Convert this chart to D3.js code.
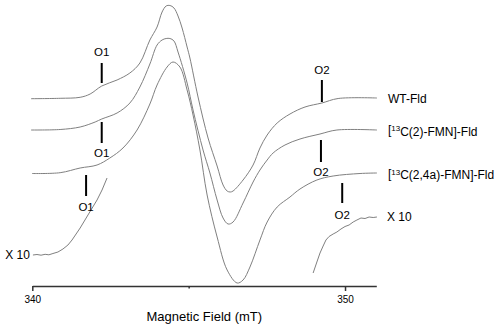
<!DOCTYPE html>
<html>
<head>
<meta charset="utf-8">
<script src="https://cdn.jsdelivr.net/npm/d3@7"></script>
<style>
  body { margin: 0; background: #fff; }
  text { font-family: "Liberation Sans", Arial, sans-serif; fill: #000; }
  .trace { fill: none; stroke: #808080; stroke-width: 1; }
  .marker { stroke: #000; stroke-width: 2; }
  .axis path, .axis line { stroke: #333; stroke-width: 1.5; }
</style>
</head>
<body>
<div id="chart"></div>
<script>
// field values (mT) and signal (a.u., relative to each trace's baseline)
var wtField = [339.96, 340.89, 341.53, 341.85, 342.22, 342.71, 343.12, 343.44, 343.76, 343.99, 344.15, 344.28, 344.40, 344.53, 344.66, 344.79, 344.95, 345.04, 345.30, 345.62, 345.91, 346.10, 346.23, 346.33, 346.42, 346.74, 347.06, 347.28, 347.51, 347.83, 348.24, 348.72, 349.26, 349.78, 351.02];
var wtSignal = [-0.2, 0.2, 1.2, 4.5, 12.5, 18.5, 25.5, 35.5, 58.5, 71.5, 86.5, 92.5, 93, 90.5, 82.5, 70.5, 51.5, 40.5, 1.5, -39.5, -67.5, -86.5, -92.5, -93.5, -92.5, -81.5, -66.5, -49.5, -36.5, -24.5, -15.5, -8.5, -4.5, 0, 0.5];

var c2Field = [339.96, 340.89, 341.53, 342.01, 342.22, 342.71, 343.12, 343.44, 343.76, 343.99, 344.15, 344.28, 344.40, 344.53, 344.66, 344.95, 345.14, 345.46, 345.68, 345.91, 346.10, 346.26, 346.42, 346.74, 347.06, 347.28, 347.51, 347.70, 348.08, 348.56, 349.20, 349.74, 351.02];
var c2Signal = [0, 0.5, 3, 8, 11, 17, 27, 43, 66, 85, 90, 91.5, 91.5, 89, 78, 47, 20, -20, -43, -70, -88, -94, -92, -73, -52, -40, -30, -23, -15, -9, -4, 0, 0];

var c24aField = [339.99, 340.89, 341.53, 342.07, 342.48, 342.90, 343.35, 343.76, 343.99, 344.31, 344.50, 344.72, 344.95, 345.14, 345.36, 345.59, 345.91, 346.23, 346.55, 346.74, 346.96, 347.28, 347.51, 347.83, 348.24, 348.56, 349.10, 349.62, 350.48, 351.02];
var c24aSignal = [0, 0.8, 5.5, 8.5, 15.5, 25.5, 43.5, 69.5, 88.5, 106.5, 111.5, 106.5, 83.5, 58.5, 23.5, -21.5, -63.5, -96.5, -109.5, -106.5, -93.5, -66.5, -48.5, -33.5, -23.5, -15.5, -6.5, -2.5, 0, 0.5];

// baseline offsets (a.u.)
var traceNames = ["WT-Fld", "[13C(2)-FMN]-Fld", "[13C(2,4a)-FMN]-Fld"];
var traceOffsets = [187.5, 156, 112.5];

// x10 expansions of the wings (absolute a.u.)
var lowX10Field = [340.02, 340.15, 340.28, 340.41, 340.53, 340.66, 340.82, 340.98, 341.14, 341.27, 341.53, 341.78, 342.07, 342.23, 342.39];
var lowX10Signal = [31, 31.5, 30.8, 31.7, 31.2, 32.5, 34, 37, 41, 46, 58, 71, 86, 96, 108];
var highX10Field = [348.98, 349.10, 349.20, 349.30, 349.39, 349.49, 349.62, 349.74, 349.87, 350.00, 350.13, 350.26, 350.38, 350.51, 350.64, 350.77, 350.90, 351.02];
var highX10Signal = [13, 24, 33, 40, 46, 49.5, 52, 54, 57, 59.5, 61, 64, 66, 68, 67.5, 69, 68.5, 69];

// hyperfine markers: field, line ends and label height (a.u.)
var markerLabels = ["O1", "O2", "O1", "O2", "O1", "O2"];
var markerField = [342.22, 349.26, 342.22, 349.23, 341.72, 349.91];
var markerTop = [223, 206, 164, 146, 111, 103];
var markerBottom = [203, 184, 143, 124, 90, 83];
var markerLabelY = [234, 216, 133, 114, 79, 71];

var tickValues = [340, 345, 350];

var width = 500, height = 330;

var svg = d3.select("#chart")
  .append("svg")
    .attr("width", width)
    .attr("height", height);

var x = d3.scaleLinear()
    .domain([340, 351])
    .range([32.3, 376.3]);

var y = d3.scaleLinear()
    .domain([0, 290])
    .range([286, -4]);

var line = d3.line()
    .x(function(d) { return x(d[0]); })
    .y(function(d) { return y(d[1]); })
    .curve(d3.curveCatmullRom);

var rough = d3.line()
    .x(function(d) { return x(d[0]); })
    .y(function(d) { return y(d[1]); });

var traces = [
  [wtField, wtSignal],
  [c2Field, c2Signal],
  [c24aField, c24aSignal]
];

traces.forEach(function(t, i) {
  var pts = t[0].map(function(f, j) { return [f, t[1][j] + traceOffsets[i]]; });
  svg.append("path")
    .attr("class", "trace")
    .attr("d", line(pts));
});

var lowPts = lowX10Field.map(function(f, j) { return [f, lowX10Signal[j]]; });
var highPts = highX10Field.map(function(f, j) { return [f, highX10Signal[j]]; });
svg.append("path").attr("class", "trace").attr("d", rough(lowPts));
svg.append("path").attr("class", "trace").attr("d", rough(highPts));

// markers
markerField.forEach(function(f, i) {
  svg.append("line")
    .attr("class", "marker")
    .attr("x1", x(f)).attr("x2", x(f))
    .attr("y1", y(markerTop[i])).attr("y2", y(markerBottom[i]));
  svg.append("text")
    .attr("x", x(f))
    .attr("y", y(markerLabelY[i]))
    .attr("dy", "0.35em")
    .style("text-anchor", "middle")
    .style("font-size", "11.5px")
    .text(markerLabels[i]);
});

// trace labels, with superscript 13
var labelX = x(351.02) + 11;
traceNames.forEach(function(name, i) {
  var t = svg.append("text")
    .attr("x", labelX)
    .attr("y", y(traceOffsets[i]))
    .attr("dy", "0.35em")
    .style("font-size", "12px");
  if (name.indexOf("13") === 1) {
    t.append("tspan").text("[");
    t.append("tspan").attr("dy", "-0.4em").style("font-size", "8px").text("13");
    t.append("tspan").attr("dy", "0.4em").text(name.slice(3));
  } else {
    t.text(name);
  }
});

svg.append("text")
  .attr("x", labelX - 1)
  .attr("y", y(highX10Signal[highX10Signal.length - 1]))
  .attr("dy", "0.35em")
  .style("font-size", "12px")
  .text("X 10");

svg.append("text")
  .attr("x", x(lowX10Field[0]) - 3)
  .attr("y", y(lowX10Signal[0]))
  .attr("dy", "0.35em")
  .style("text-anchor", "end")
  .style("font-size", "12px")
  .text("X 10");

// x axis
var axis = svg.append("g")
    .attr("class", "axis")
    .attr("transform", "translate(0," + y(0) + ")")
    .call(d3.axisBottom(x)
      .tickValues(tickValues)
      .tickSize(5)
      .tickSizeOuter(0)
      .tickFormat(function(d) { return d === 345 ? "" : d; }));

axis.selectAll(".tick")
  .filter(function(d) { return d === 345; })
  .select("line")
    .attr("y2", 2.5);

axis.selectAll("text")
    .attr("y", 10)
    .style("font-size", "10px")
    .style("font-family", "\"Liberation Sans\", Arial, sans-serif")
    .attr("fill", "#000");

svg.append("text")
  .attr("x", x(345.5))
  .attr("y", 321)
  .style("text-anchor", "middle")
  .style("font-size", "13px")
  .text("Magnetic Field (mT)");
</script>
</body>
</html>
